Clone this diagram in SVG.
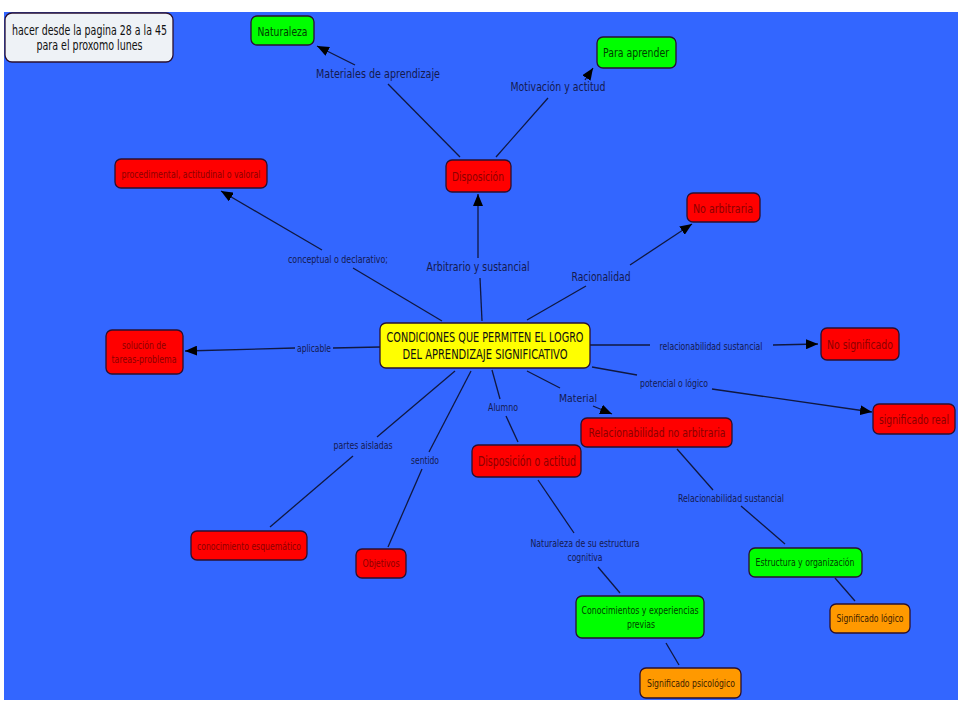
<svg xmlns="http://www.w3.org/2000/svg" width="960" height="720" viewBox="0 0 960 720">
<defs>
<marker id="ah" viewBox="0 0 12 10" refX="12" refY="5" markerWidth="12" markerHeight="10" markerUnits="userSpaceOnUse" orient="auto">
<path d="M0,0 L12,5 L0,10 z" fill="#000"/>
</marker>
</defs>
<style>
text{font-family:"DejaVu Sans Condensed","DejaVu Sans",sans-serif;text-anchor:middle}
.n rect{stroke:#2a1030;stroke-width:1.3}
.red rect{fill:#ff0000}
.red text{fill:#8b0000}
.grn rect{fill:#00ff00}
.grn text{fill:#004000}
.org rect{fill:#ff9900}
.org text{fill:#402000}
.lbl{fill:#141a50;font-size:11px}
.c line,.c polyline{stroke:#101840;stroke-width:1.3;fill:none}
.a{marker-end:url(#ah)}
</style>
<rect x="0" y="0" width="960" height="720" fill="#ffffff"/>
<rect x="4" y="12" width="954" height="688" fill="#3366ff"/>

<g id="connectors" class="c">
<line x1="460" y1="157" x2="388" y2="84"/>
<line class="a" x1="355" y1="65" x2="317" y2="46"/>
<line x1="496" y1="157" x2="548" y2="98"/>
<line class="a" x1="585" y1="80" x2="593" y2="68"/>
<line x1="527" y1="320" x2="586" y2="286"/>
<line class="a" x1="630" y1="265" x2="692" y2="224"/>
<line x1="442" y1="321" x2="353" y2="268"/>
<line class="a" x1="322" y1="250" x2="221" y2="191"/>
<line x1="482" y1="321" x2="480" y2="278"/>
<line class="a" x1="478" y1="258" x2="478" y2="194"/>
<line x1="380" y1="347" x2="333" y2="348"/>
<line class="a" x1="295" y1="348" x2="185" y2="351"/>
<line x1="590" y1="345" x2="650" y2="345"/>
<line class="a" x1="773" y1="345" x2="818" y2="344"/>
<line x1="592" y1="367" x2="637" y2="375"/>
<line class="a" x1="712" y1="389" x2="872" y2="412"/>
<line x1="527" y1="371" x2="560" y2="388"/>
<line class="a" x1="593" y1="406" x2="612" y2="414"/>
<line x1="492" y1="370" x2="500" y2="399"/>
<line x1="506" y1="416" x2="518" y2="442"/>
<line x1="455" y1="371" x2="377" y2="437"/>
<line x1="353" y1="456" x2="270" y2="527"/>
<line x1="471" y1="371" x2="429" y2="452"/>
<line x1="422" y1="469" x2="388" y2="547"/>
<line x1="538" y1="480" x2="574" y2="533"/>
<line x1="598" y1="567" x2="620" y2="593"/>
<line x1="677" y1="449" x2="713" y2="490"/>
<line x1="741" y1="506" x2="785" y2="544"/>
<line x1="835" y1="578" x2="855" y2="601"/>
<line x1="666" y1="643" x2="679" y2="665"/>
</g>

<g id="connector-labels" class="lbl">
<text x="378" y="78" font-size="13" textLength="124" lengthAdjust="spacingAndGlyphs">Materiales  de aprendizaje</text>
<text x="558" y="91" font-size="13" textLength="95" lengthAdjust="spacingAndGlyphs">Motivación y actitud</text>
<text x="601" y="281" font-size="13" textLength="59" lengthAdjust="spacingAndGlyphs">Racionalidad</text>
<text x="338" y="263" textLength="100" lengthAdjust="spacingAndGlyphs">conceptual o declarativo;</text>
<text x="478" y="271" font-size="13" textLength="103" lengthAdjust="spacingAndGlyphs">Arbitrario y sustancial</text>
<text x="314" y="352" textLength="34" lengthAdjust="spacingAndGlyphs">aplicable</text>
<text x="711" y="350" textLength="103" lengthAdjust="spacingAndGlyphs">relacionabilidad sustancial</text>
<text x="674" y="387" textLength="68" lengthAdjust="spacingAndGlyphs">potencial o lógico</text>
<text x="578" y="402" font-size="10.5" textLength="38" lengthAdjust="spacingAndGlyphs">Material</text>
<text x="503" y="411" textLength="30" lengthAdjust="spacingAndGlyphs">Alumno</text>
<text x="363" y="449" textLength="59" lengthAdjust="spacingAndGlyphs">partes aisladas</text>
<text x="425" y="464" textLength="28" lengthAdjust="spacingAndGlyphs">sentido</text>
<text x="585" y="547" textLength="109" lengthAdjust="spacingAndGlyphs">Naturaleza de su estructura</text>
<text x="585" y="561" textLength="35" lengthAdjust="spacingAndGlyphs">cognitiva</text>
<text x="731" y="502" textLength="106" lengthAdjust="spacingAndGlyphs">Relacionabilidad sustancial</text>
</g>

<g id="note" class="n">
<rect x="5" y="13" width="168" height="49" rx="7" fill="#eef2f6"/>
<text x="89.5" y="35" font-size="14" fill="#111" textLength="155" lengthAdjust="spacingAndGlyphs">hacer desde la pagina 28 a la 45</text>
<text x="89.5" y="50" font-size="14" fill="#111" textLength="106" lengthAdjust="spacingAndGlyphs">para el proxomo lunes</text>
</g>

<g id="n-naturaleza" class="n grn">
<rect x="251" y="16" width="63" height="29" rx="6"/>
<text x="282.5" y="35.5" font-size="13" textLength="50" lengthAdjust="spacingAndGlyphs">Naturaleza</text>
</g>
<g id="n-para-aprender" class="n grn">
<rect x="597" y="37" width="79" height="31" rx="6"/>
<text x="636" y="57" font-size="13" textLength="66" lengthAdjust="spacingAndGlyphs">Para aprender</text>
</g>
<g id="n-disposicion" class="n red">
<rect x="446" y="160" width="65" height="32" rx="6"/>
<text x="478" y="180.5" font-size="13" textLength="52" lengthAdjust="spacingAndGlyphs">Disposición</text>
</g>
<g id="n-procedimental" class="n red">
<rect x="115" y="159" width="152" height="29" rx="6"/>
<text x="191" y="178" font-size="11" textLength="139" lengthAdjust="spacingAndGlyphs">procedimental, actitudinal o valoral</text>
</g>
<g id="n-no-arbitraria" class="n red">
<rect x="687" y="193" width="73" height="29" rx="6"/>
<text x="723" y="212.5" font-size="13" textLength="60" lengthAdjust="spacingAndGlyphs">No arbitraria</text>
</g>
<g id="n-center" class="n">
<rect x="380" y="323" width="210" height="45" rx="6" fill="#ffff00"/>
<text x="485" y="341.5" font-size="13.5" fill="#111" textLength="197" lengthAdjust="spacingAndGlyphs">CONDICIONES QUE PERMITEN EL LOGRO</text>
<text x="485" y="358.5" font-size="13.5" fill="#111" textLength="165" lengthAdjust="spacingAndGlyphs">DEL APRENDIZAJE SIGNIFICATIVO</text>
</g>
<g id="n-solucion" class="n red">
<rect x="106" y="330" width="77" height="44" rx="6"/>
<text x="144" y="349" font-size="11" textLength="44" lengthAdjust="spacingAndGlyphs">solución de</text>
<text x="144" y="363" font-size="11" textLength="65" lengthAdjust="spacingAndGlyphs">tareas-problema</text>
</g>
<g id="n-no-significado" class="n red">
<rect x="821" y="328" width="78" height="32" rx="6"/>
<text x="860" y="348.5" font-size="13" textLength="66" lengthAdjust="spacingAndGlyphs">No significado</text>
</g>
<g id="n-significado-real" class="n red">
<rect x="873" y="404" width="82" height="30" rx="6"/>
<text x="914" y="423.5" font-size="12" textLength="70" lengthAdjust="spacingAndGlyphs">significado real</text>
</g>
<g id="n-rel-no-arbitraria" class="n red">
<rect x="581" y="418" width="151" height="29" rx="6"/>
<text x="657" y="437" font-size="13" textLength="137" lengthAdjust="spacingAndGlyphs">Relacionabilidad no arbitraria</text>
</g>
<g id="n-disposicion-actitud" class="n red">
<rect x="472" y="445" width="109" height="32" rx="6"/>
<text x="527" y="466" font-size="14" textLength="98" lengthAdjust="spacingAndGlyphs">Disposición o actitud</text>
</g>
<g id="n-conocimiento-esquematico" class="n red">
<rect x="191" y="531" width="116" height="29" rx="6"/>
<text x="249" y="550" font-size="11" textLength="104" lengthAdjust="spacingAndGlyphs">conocimiento esquemático</text>
</g>
<g id="n-objetivos" class="n red">
<rect x="356" y="549" width="50" height="29" rx="6"/>
<text x="381" y="567" font-size="11" textLength="37" lengthAdjust="spacingAndGlyphs">Objetivos</text>
</g>
<g id="n-estructura" class="n grn">
<rect x="749" y="548" width="113" height="29" rx="6"/>
<text x="805" y="566" font-size="11" textLength="99" lengthAdjust="spacingAndGlyphs">Estructura y organización</text>
</g>
<g id="n-conocimientos" class="n grn">
<rect x="576" y="596" width="128" height="42" rx="6"/>
<text x="640" y="614" font-size="11" textLength="117" lengthAdjust="spacingAndGlyphs">Conocimientos y experiencias</text>
<text x="641" y="628" font-size="11" textLength="28" lengthAdjust="spacingAndGlyphs">previas</text>
</g>
<g id="n-significado-logico" class="n org">
<rect x="830" y="604" width="80" height="29" rx="6"/>
<text x="870" y="622" font-size="11" textLength="67" lengthAdjust="spacingAndGlyphs">Significado lógico</text>
</g>
<g id="n-significado-psicologico" class="n org">
<rect x="640" y="668" width="101" height="30" rx="6"/>
<text x="691" y="687" font-size="11" textLength="88" lengthAdjust="spacingAndGlyphs">Significado psicológico</text>
</g>
</svg>
